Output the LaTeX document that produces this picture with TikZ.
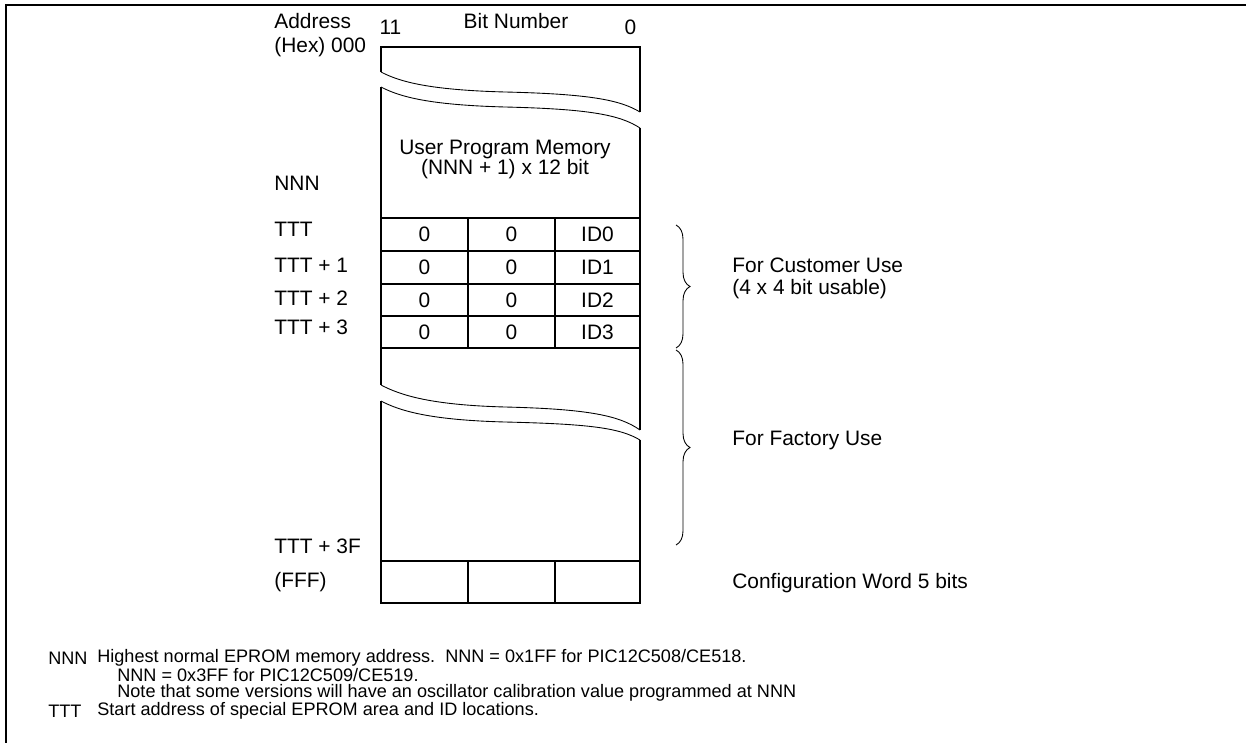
\documentclass[tikz,border=0pt]{standalone}
\usepackage{fontspec}
\setmainfont{Liberation Sans}
\usepackage{tikz}
\usetikzlibrary{decorations.pathreplacing}

\tikzset{
  lbl/.style={inner sep=0pt, font=\fontsize{11.9}{10}\selectfont},
  note/.style={inner sep=0pt, anchor=west, font=\fontsize{10.3}{10}\selectfont},
  memline/.style={line width=1pt},
  breakline/.style={line width=0.5pt},
  bracket/.style={decorate, decoration={brace, amplitude=0.28cm}, line width=0.5pt}
}

\begin{document}
\begin{tikzpicture}[x=0.02cm, y=-0.02cm]
\useasboundingbox (0,0) rectangle (1246,743);

% frame
\draw[line width=1pt] (1246,5) -- (6,5) -- (6,743);

% headings
\node[lbl, anchor=west] (addr) at (274,21) {Address};
\node[lbl, anchor=west] (hex) at (274,47) {(Hex) 000};
\node[lbl] (msb) at (390.5,27) {11};
\node[lbl] (bitnum) at (516,21) {Bit Number};
\node[lbl] (lsb) at (630.5,27) {0};

% memory box
\draw[memline] (381,72) -- (381,47) -- (640,47) -- (640,112);
\draw[memline] (381,87) -- (381,385);
\draw[memline] (640,128) -- (640,430);
\draw[memline] (381,401) -- (381,603) -- (640,603) -- (640,440);

% breaks
\draw[breakline] (381,72) .. controls (400,82) and (430,90) .. (505,92) .. controls (590,94) and (620,100) .. (640,112);
\draw[breakline] (381,87) .. controls (400,97) and (430,105) .. (505,107) .. controls (590,109) and (620,115) .. (640,128);
\draw[breakline] (381,385) .. controls (400,395) and (430,405) .. (505,407) .. controls (590,409) and (620,416) .. (640,430);
\draw[breakline] (381,401) .. controls (400,411) and (430,420) .. (505,422) .. controls (590,424) and (620,428) .. (640,440);

\node[lbl, anchor=base] (upm) at (505,154) {User Program Memory};
\node[lbl, anchor=base] (upmsize) at (505,174) {(NNN + 1) x 12 bit};

% rows
\foreach \yy in {218,251,284,316,348,561}
  \draw[memline] (381,\yy) -- (640,\yy);
\draw[memline] (468,218) -- (468,348) (555,218) -- (555,348);
\draw[memline] (468,561) -- (468,603) (555,561) -- (555,603);

\foreach \i/\yy in {0/234.5,1/267.5,2/300,3/332} {
  \node[lbl] (hi\i) at (424.5,\yy) {0};
  \node[lbl] (mid\i) at (511.5,\yy) {0};
  \node[lbl] (id\i) at (597.5,\yy) {ID\i};
}

% addresses
\node[lbl, anchor=west] (nnn) at (274,183) {NNN};
\node[lbl, anchor=west] (ttt) at (274,229) {TTT};
\foreach \i/\yy in {1/265,2/298,3/327}
  \node[lbl, anchor=west] (ttt\i) at (274,\yy) {TTT + \i};
\node[lbl, anchor=west] (tttf) at (274,546) {TTT + 3F};
\node[lbl, anchor=west] (fff) at (274,582) {(FFF)};

% right side
\draw[bracket] (676,225) -- (676,348);
\draw[bracket] (676,350) -- (676,545);
\node[lbl, anchor=base west] (cust) at (732,272) {For Customer Use};
\node[lbl, anchor=base west] (custbits) at (732,294) {(4 x 4 bit usable)};
\node[lbl, anchor=base west] (fact) at (732,445) {For Factory Use};
\node[lbl, anchor=west] (cfg) at (732,583) {Configuration Word 5 bits};

% notes
\node[note] (nnnkey) at (48,658) {NNN};
\node[note] (nnntxt) at (97,658) {Highest normal EPROM memory address.\ \ NNN = 0x1FF for PIC12C508/CE518.};
\node[note] (nnntxtb) at (117,675) {NNN = 0x3FF for PIC12C509/CE519.};
\node[note] (nnntxtc) at (117,693) {Note that some versions will have an oscillator calibration value programmed at NNN};
\node[note] (tttkey) at (48,711) {TTT};
\node[note] (ttttxt) at (97,711) {Start address of special EPROM area and ID locations.};

\end{tikzpicture}
\end{document}
